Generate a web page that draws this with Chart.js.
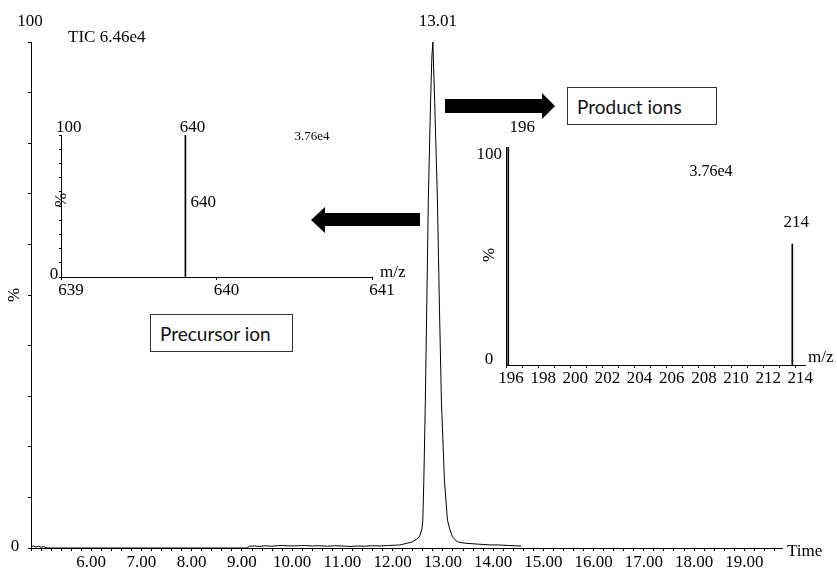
<!DOCTYPE html>
<html>
<head>
<meta charset="utf-8">
<script src="https://cdn.jsdelivr.net/npm/chart.js@4.4.1/dist/chart.umd.min.js"></script>
<style>
  html, body { margin: 0; padding: 0; background: #fff; }
  #wrap { position: relative; width: 837px; height: 570px; overflow: hidden; }
  canvas { position: absolute; }
  #mainChart { left: 0; top: 0; }
  #precursorChart { left: 0; top: 100px; }
  #productChart { left: 440px; top: 120px; }
  svg { position: absolute; left: 0; top: 0; }
  .box { position: absolute; box-sizing: border-box; border: 1px solid #333; background: #fff;
         font-family: Lato, sans-serif; font-size: 19px; color: #111; padding-left: 9px;
         display: flex; align-items: center; }
</style>
</head>
<body>
<div id="wrap">
  <canvas id="mainChart" width="837" height="570"></canvas>
  <canvas id="precursorChart" width="420" height="210"></canvas>
  <canvas id="productChart" width="397" height="280"></canvas>
  <svg width="837" height="570">
    <polygon points="445,99 542,99 542,93 555,106 542,119 542,113 445,113" fill="#000"/>
    <polygon points="311,220 325,207 325,213 420,213 420,226 325,226 325,233" fill="#000"/>
  </svg>
  <div class="box" style="left:567px;top:87px;width:150px;height:38px;">Product ions</div>
  <div class="box" style="left:150px;top:314px;width:143px;height:38px;">Precursor ion</div>
</div>
<script>
// chromatogramme TIC (temps en min, intensité en %)
const ticTimes = [5.00, 5.05, 5.10, 5.15, 5.20, 5.25, 5.30, 5.40, 9.30, 9.35, 9.45, 9.55, 9.65, 9.75, 9.85,
  10.00, 10.15, 10.30, 10.45, 10.60, 10.75, 10.90, 11.05, 11.20, 11.35, 11.50, 11.65, 11.80, 11.95,
  12.10, 12.25, 12.34, 12.47, 12.59, 12.67, 12.73, 12.78, 12.80, 12.82, 12.85, 12.88, 12.91, 12.955,
  12.98, 13.00, 13.035, 13.09, 13.13, 13.17, 13.23, 13.29, 13.34, 13.39, 13.49, 13.60, 13.70, 13.85,
  14.00, 14.15, 14.32, 14.50, 14.65, 14.76];
const ticIntensity = [0.25, 0.4, 0.2, 0.35, 0.15, 0.3, 0.05, 0, 0, 0.35, 0.4, 0.3, 0.45, 0.35, 0.4,
  0.5, 0.4, 0.45, 0.5, 0.4, 0.45, 0.35, 0.45, 0.4, 0.3, 0.4, 0.35, 0.45, 0.4,
  0.5, 0.55, 0.6, 0.9, 1.2, 1.7, 2.2, 3.6, 5.5, 13.4, 29, 49, 69, 88.5,
  97, 100, 88.5, 69, 48, 29, 13.4, 5.5, 3.6, 2.2, 1.2, 1.0, 0.9, 0.8,
  0.7, 0.6, 0.6, 0.5, 0.45, 0.4];

// spectre de l'ion précurseur
const precursorMz = [639.8];
const precursorIntensity = [100];

// spectre des ions produits
const productMz = [196.14, 213.81];
const productIntensity = [100, 55.5];

const serif = '"Liberation Serif", "Times New Roman", serif';

// Plugin pour écrire les textes libres (étiquettes, unités)
const overlayText = {
  id: 'overlayText',
  afterDraw(chart, args, opts) {
    const ctx = chart.ctx;
    const xs = chart.scales.x;
    (opts.items || []).forEach(it => {
      const x = it.xv !== undefined ? xs.getPixelForValue(it.xv) + (it.dx || 0) : it.x;
      ctx.save();
      ctx.font = (it.size || 17) + 'px ' + serif;
      ctx.fillStyle = '#000';
      ctx.textAlign = it.align || 'center';
      ctx.textBaseline = 'middle';
      ctx.translate(x, it.y);
      if (it.rotate) ctx.rotate(it.rotate);
      ctx.fillText(it.text, 0, 0);
      ctx.restore();
    });
  }
};

function toPoints(xs, ys) {
  return xs.map((x, i) => ({ x: x, y: ys[i] }));
}

function baseOptions(textItems) {
  return {
    responsive: false,
    animation: false,
    devicePixelRatio: 1,
    plugins: {
      legend: { display: false },
      tooltip: { enabled: false },
      overlayText: { items: textItems }
    }
  };
}

// Graphique principal : TIC
const mainOpts = baseOptions([
  { text: '100', x: 30, y: 22 },
  { text: 'TIC 6.46e4', x: 68, y: 38, align: 'left' },
  { text: '%', x: 15, y: 295, rotate: -Math.PI / 2 },
  { text: '0', x: 15, y: 547 },
  { text: '13.01', xv: 13.00, dx: 5, y: 22 },
  { text: 'Time', x: 787, y: 552, align: 'left' }
]);
mainOpts.layout = { padding: { top: 42, right: 55, left: 0, bottom: 0 } };
mainOpts.scales = {
  x: {
    type: 'linear', min: 5, max: 19.95,
    border: { color: '#000', width: 1 },
    grid: { drawOnChartArea: false, color: '#000', tickLength: 3 },
    ticks: {
      stepSize: 0.2, autoSkip: false, maxRotation: 0, labelOffset: 10, padding: 1, color: '#000',
      includeBounds: false,
      font: { family: serif, size: 17 },
      callback: v => {
        const r = Math.round(v);
        return (Math.abs(v - r) < 1e-6 && r >= 6 && r <= 19) ? r.toFixed(2) : '';
      }
    },
    afterFit: s => { s.height = 22; }
  },
  y: {
    min: 0, max: 100,
    border: { color: '#000', width: 1 },
    grid: { drawOnChartArea: false, color: '#000', tickLength: 3 },
    ticks: { stepSize: 10, display: false },
    afterFit: s => { s.width = 31; }
  }
};

new Chart(document.getElementById('mainChart'), {
  type: 'line',
  data: {
    datasets: [{
      data: toPoints(ticTimes, ticIntensity),
      borderColor: '#000', borderWidth: 1, pointRadius: 0, tension: 0, fill: false
    }]
  },
  options: mainOpts,
  plugins: [overlayText]
});

// Encart : ion précurseur
const precOpts = baseOptions([
  { text: '100', x: 56, y: 28, align: 'left' },
  { text: '0', x: 54, y: 175 },
  { text: '%', x: 62, y: 100, rotate: -Math.PI / 2 },
  { text: '640', xv: precursorMz[0], dx: 7, y: 28 },
  { text: '640', xv: precursorMz[0], dx: 5, y: 103, align: 'left' },
  { text: '3.76e4', x: 312, y: 37, size: 13 },
  { text: 'm/z', x: 380, y: 173, align: 'left' }
]);
precOpts.layout = { padding: { top: 35, right: 48, left: 0, bottom: 0 } };
precOpts.scales = {
  x: {
    type: 'linear', min: 639, max: 641, offset: false,
    border: { color: '#000', width: 1 },
    grid: { drawOnChartArea: false, offset: false, color: '#000', tickLength: 3 },
    ticks: {
      stepSize: 1, autoSkip: false, maxRotation: 0, labelOffset: 10, padding: 0, color: '#000',
      font: { family: serif, size: 17 }
    },
    afterFit: s => { s.height = 33; }
  },
  y: {
    min: 0, max: 100,
    border: { color: '#000', width: 1 },
    grid: { drawOnChartArea: false, color: '#000', tickLength: 2 },
    ticks: { stepSize: 10, display: false },
    afterFit: s => { s.width = 61; }
  }
};

new Chart(document.getElementById('precursorChart'), {
  type: 'bar',
  data: {
    datasets: [{
      data: toPoints(precursorMz, precursorIntensity),
      backgroundColor: '#000', barThickness: 1, borderWidth: 0
    }]
  },
  options: precOpts,
  plugins: [overlayText]
});

// Encart : ions produits
const prodOpts = baseOptions([
  { text: '196', xv: productMz[0], dx: 14, y: 8 },
  { text: '100', x: 62, y: 35, align: 'right' },
  { text: '0', x: 49, y: 240 },
  { text: '%', x: 50, y: 135, rotate: -Math.PI / 2 },
  { text: '3.76e4', x: 271, y: 52, size: 16 },
  { text: '214', xv: productMz[1], dx: 4, y: 103 },
  { text: 'm/z', x: 368, y: 238, align: 'left' }
]);
prodOpts.layout = { padding: { top: 27, right: 32, left: 0, bottom: 0 } };
prodOpts.scales = {
  x: {
    type: 'linear', min: 196, max: 214.6, offset: false,
    border: { color: '#000', width: 1 },
    grid: { drawOnChartArea: false, offset: false, color: '#000', tickLength: 3 },
    ticks: {
      stepSize: 1, autoSkip: false, maxRotation: 0, labelOffset: 5, padding: 0, color: '#000',
      includeBounds: false,
      font: { family: serif, size: 17 },
      callback: v => (Math.round(v) % 2 === 0 ? String(Math.round(v)) : '')
    },
    afterFit: s => { s.height = 35; }
  },
  y: {
    min: 0, max: 100,
    border: { color: '#000', width: 1 },
    grid: { display: false },
    ticks: { display: false },
    afterFit: s => { s.width = 66; }
  }
};

new Chart(document.getElementById('productChart'), {
  type: 'bar',
  data: {
    datasets: [{
      data: toPoints(productMz, productIntensity),
      backgroundColor: '#000', barThickness: 1, borderWidth: 0
    }]
  },
  options: prodOpts,
  plugins: [overlayText]
});
</script>
</body>
</html>
